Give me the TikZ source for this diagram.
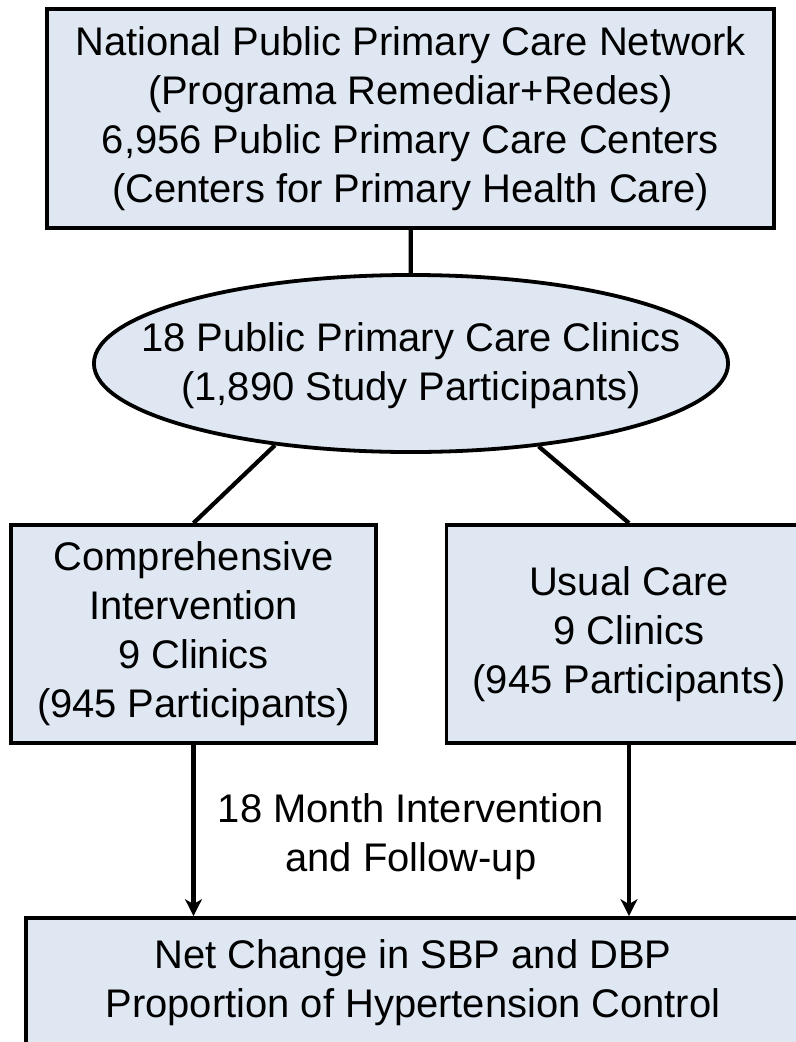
\documentclass[tikz,border=0pt]{standalone}
\usepackage{fontspec}
\setmainfont{Liberation Sans}
\usetikzlibrary {arrows.meta,shapes.geometric}

\definecolor{boxfill}{RGB}{222,231,242}

\begin{document}
\begin{tikzpicture}[x=0.025cm, y=-0.025cm, line width=2.7pt,
    txt/.style={align=center, font=\fontsize{28.4}{34.9}\selectfont, inner sep=0pt},
    box/.style={rectangle, draw, fill=boxfill, txt},
    arm/.style={box, minimum width=9.125cm, minimum height=5.45cm},
    link/.style={line width=3pt}]
    \useasboundingbox (0,0) rectangle (796,1042);
    \clip (0,0) rectangle (796,1042);

    \node[box, minimum width=18.175cm, minimum height=5.475cm] (network) at (410.5,118.5)
        {National Public Primary Care Network\\(Programa Remediar+Redes)\\6,956 Public Primary Care Centers\\(Centers for Primary Health Care)};
    \node[ellipse, draw, fill=boxfill, minimum width=15.85cm, minimum height=4.425cm, inner sep=0pt] (clinics) at (411,363.5) {};
    \node[txt] (clinicstxt) at (411,366) {18 Public Primary Care Clinics\\(1,890 Study Participants)};
    \node[arm] (comp) at (193.5,634) {Comprehensive\\Intervention\\9 Clinics\\(945 Participants)};
    \node[arm] (usual) at (629,634) {Usual Care\\9 Clinics\\(945 Participants)};
    \node[box, minimum width=19.35cm, minimum height=3.25cm] (outcome) at (413,983)
        {Net Change in SBP and DBP\\Proportion of Hypertension Control};
    \node[txt] (followup) at (411,837) {18 Month Intervention\\and Follow-up};

    \draw[link] (network) -- (clinics);
    \draw[link] (clinics.211.5) -- (comp.north);
    \draw[link] (clinics.-33) -- (usual.north);
    \draw[link, -{Stealth[length=0.42cm, width=0.42cm, inset=0.12cm]}] (comp.south) -- (comp.south |- outcome.north);
    \draw[link, -{Stealth[length=0.42cm, width=0.42cm, inset=0.12cm]}] (usual.south) -- (usual.south |- outcome.north);
\end{tikzpicture}
\end{document}
